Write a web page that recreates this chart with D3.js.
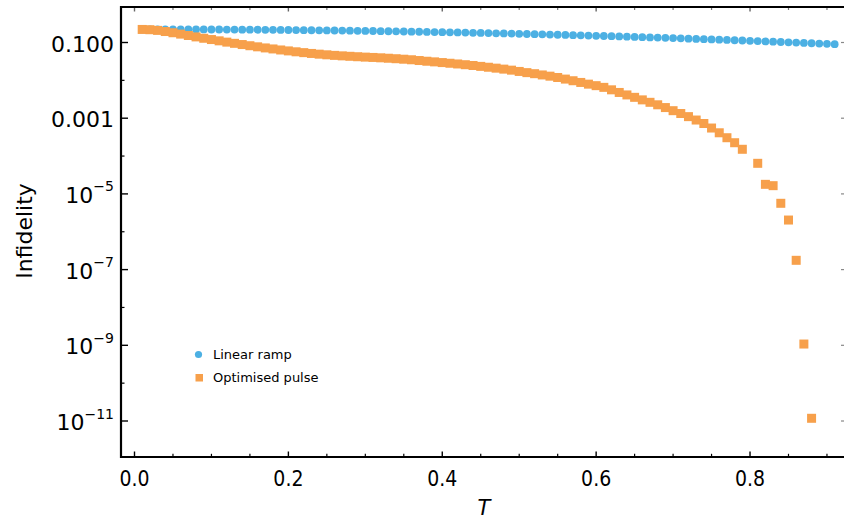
<!DOCTYPE html>
<html>
<head>
<meta charset="utf-8">
<script src="https://cdn.jsdelivr.net/npm/d3@7"></script>
<style>
  html, body { margin: 0; padding: 0; background: #fff; }
  svg { display: block; }
  text { font-family: "DejaVu Sans", sans-serif; fill: #000; }
  .xlab { font-family: "DejaVu Sans Condensed", "DejaVu Sans", sans-serif; font-stretch: condensed; }
</style>
</head>
<body>
<svg id="chart" width="844" height="522"></svg>
<script>
// Pulse duration T
const durations = [
  0.01, 0.02, 0.03, 0.04, 0.05, 0.06, 0.07, 0.08, 0.09, 0.10,
  0.11, 0.12, 0.13, 0.14, 0.15, 0.16, 0.17, 0.18, 0.19, 0.20,
  0.21, 0.22, 0.23, 0.24, 0.25, 0.26, 0.27, 0.28, 0.29, 0.30,
  0.31, 0.32, 0.33, 0.34, 0.35, 0.36, 0.37, 0.38, 0.39, 0.40,
  0.41, 0.42, 0.43, 0.44, 0.45, 0.46, 0.47, 0.48, 0.49, 0.50,
  0.51, 0.52, 0.53, 0.54, 0.55, 0.56, 0.57, 0.58, 0.59, 0.60,
  0.61, 0.62, 0.63, 0.64, 0.65, 0.66, 0.67, 0.68, 0.69, 0.70,
  0.71, 0.72, 0.73, 0.74, 0.75, 0.76, 0.77, 0.78, 0.79, 0.80,
  0.81, 0.82, 0.83, 0.84, 0.85, 0.86, 0.87, 0.88, 0.89, 0.90,
  0.91
];

// Infidelity of the linear ramp
const linearRamp = [
  0.2234, 0.2233, 0.2232, 0.2230, 0.2228, 0.2226, 0.2222, 0.2218, 0.2214, 0.2209,
  0.2204, 0.2199, 0.2193, 0.2186, 0.2179, 0.2172, 0.2164, 0.2156, 0.2147, 0.2138,
  0.2128, 0.2118, 0.2108, 0.2097, 0.2086, 0.2074, 0.2062, 0.2050, 0.2037, 0.2024,
  0.2011, 0.1997, 0.1983, 0.1968, 0.1953, 0.1938, 0.1923, 0.1907, 0.1891, 0.1875,
  0.1858, 0.1841, 0.1824, 0.1807, 0.1789, 0.1771, 0.1753, 0.1735, 0.1717, 0.1698,
  0.1680, 0.1661, 0.1642, 0.1623, 0.1603, 0.1584, 0.1564, 0.1545, 0.1525, 0.1505,
  0.1486, 0.1466, 0.1446, 0.1426, 0.1406, 0.1386, 0.1366, 0.1346, 0.1326, 0.1306,
  0.1286, 0.1266, 0.1246, 0.1226, 0.1206, 0.1186, 0.1167, 0.1147, 0.1128, 0.1108,
  0.1089, 0.1070, 0.1050, 0.1031, 0.1012, 0.0994, 0.0975, 0.0956, 0.0938, 0.0920,
  0.0902
];

// Infidelity of the optimised pulse (null: no point plotted)
const optimisedPulse = [
  0.2213, 0.2178, 0.2089, 0.1950, 0.1811, 0.1667, 0.1531, 0.1406, 0.1294, 0.1197,
  0.1107, 0.1023, 0.0951, 0.0883, 0.0822, 0.0769, 0.0719, 0.0676, 0.0635, 0.0600,
  0.0568, 0.0540, 0.0514, 0.0492, 0.0473, 0.0457, 0.0444, 0.0432, 0.0421, 0.0411,
  0.0403, 0.0394, 0.0384, 0.0373, 0.0362, 0.0350, 0.0334, 0.0320, 0.0308, 0.0295,
  0.0283, 0.0271, 0.0259, 0.0247, 0.0234, 0.0222, 0.0210, 0.0198, 0.0186, 0.0172,
  0.0160, 0.0150, 0.0139, 0.0129, 0.0119, 0.0108, 0.00977, 0.00881, 0.00794, 0.00724,
  0.00653, 0.00562, 0.00479, 0.00412, 0.00356, 0.00305, 0.00263, 0.00226, 0.00191, 0.00158,
  0.00133, 0.00110, 0.000895, 0.000724, 0.000550, 0.000412, 0.000305, 0.000225, 0.000151, null,
  6.43e-5, 1.79e-5, 1.65e-5, 5.65e-6, 2.04e-6, 1.76e-7, 1.08e-9, 1.18e-11, null, null,
  null
];

// Axis ticks
const xMajorTicks = [0.0, 0.2, 0.4, 0.6, 0.8];
const xMinorTicks = [0.05, 0.1, 0.15, 0.25, 0.3, 0.35, 0.45, 0.5, 0.55, 0.65, 0.7, 0.75, 0.85, 0.9];
const xTickLabels = ["0.0", "0.2", "0.4", "0.6", "0.8"];
const yMajorTicks = [1e-1, 1e-3, 1e-5, 1e-7, 1e-9, 1e-11];
const yMinorTicks = [1e-2, 1e-4, 1e-6, 1e-8, 1e-10];
const yTickLabels = [
  { base: "0.100", exp: null },
  { base: "0.001", exp: null },
  { base: "10", exp: "\u22125" },
  { base: "10", exp: "\u22127" },
  { base: "10", exp: "\u22129" },
  { base: "10", exp: "\u221211" }
];
const seriesNames = ["Linear ramp", "Optimised pulse"];

const blue = "#4cb0e3";
const orange = "#f7a04b";

const frame = { left: 121, right: 844, top: 7, bottom: 457 };

const svg = d3.select("#chart");

const x = d3.scaleLinear()
  .domain([-0.01755, 0.92214])
  .range([frame.left, frame.right]);

const y = d3.scaleLog()
  .domain([Math.pow(10, -11.951), Math.pow(10, -0.062)])
  .range([frame.bottom, frame.top]);

// ---- ticks ----
const tickG = svg.append("g");

function xTicks(values, yPos, len, color, width) {
  tickG.selectAll(null).data(values).enter().append("line")
    .attr("x1", d => x(d)).attr("x2", d => x(d))
    .attr("y1", yPos).attr("y2", yPos + len)
    .attr("stroke", color).attr("stroke-width", width);
}
function yTicks(values, xPos, len, color, width) {
  tickG.selectAll(null).data(values).enter().append("line")
    .attr("x1", xPos).attr("x2", xPos + len)
    .attr("y1", d => y(d)).attr("y2", d => y(d))
    .attr("stroke", color).attr("stroke-width", width);
}

// bottom (inward, black)
xTicks(xMajorTicks, frame.bottom, -5.5, "#000", 1.4);
xTicks(xMinorTicks, frame.bottom, -3.2, "#000", 1.2);
// top (inward, grey)
xTicks(xMajorTicks, frame.top, 4.5, "#666", 1.4);
xTicks(xMinorTicks, frame.top, 3, "#777", 1.2);
// left (inward, black)
yTicks(yMajorTicks, frame.left, 7, "#000", 1.4);
yTicks(yMinorTicks, frame.left, 3.5, "#000", 1.2);
// right (inward, grey)
yTicks(yMajorTicks, frame.right, -3, "#888", 1.2);

// ---- frame lines ----
svg.append("line")
  .attr("x1", frame.left).attr("x2", frame.left)
  .attr("y1", frame.top - 1).attr("y2", frame.bottom + 1)
  .attr("stroke", "#000").attr("stroke-width", 2.2);
svg.append("line")
  .attr("x1", frame.left - 1).attr("x2", frame.right)
  .attr("y1", frame.bottom).attr("y2", frame.bottom)
  .attr("stroke", "#000").attr("stroke-width", 2.2);
svg.append("line")
  .attr("x1", frame.left - 1).attr("x2", frame.right)
  .attr("y1", frame.top).attr("y2", frame.top)
  .attr("stroke", "#000").attr("stroke-width", 2.2);

// ---- tick labels ----
svg.append("g").selectAll("text").data(xMajorTicks).enter().append("text")
  .attr("class", "xlab")
  .attr("x", d => x(d))
  .attr("y", 486)
  .attr("text-anchor", "middle")
  .attr("font-size", 21)
  .text((d, i) => xTickLabels[i]);

const yLab = svg.append("g").selectAll("text").data(yMajorTicks).enter().append("text")
  .attr("x", 114)
  .attr("y", d => y(d) + 9)
  .attr("text-anchor", "end")
  .attr("font-size", 22);
yLab.each(function(d, i) {
  const t = d3.select(this);
  const lab = yTickLabels[i];
  t.append("tspan").text(lab.base);
  if (lab.exp) {
    t.append("tspan").attr("dy", -11.5).attr("font-size", 14).text(lab.exp);
  }
});

// ---- axis titles ----
svg.append("text")
  .attr("transform", "translate(32,231) rotate(-90)")
  .attr("text-anchor", "middle")
  .attr("font-size", 22)
  .text("Infidelity");

svg.append("text")
  .attr("x", 484)
  .attr("y", 515)
  .attr("text-anchor", "middle")
  .attr("font-size", 21)
  .attr("font-style", "italic")
  .text("T");

// ---- data ----
const ramp = durations.map((t, i) => ({ t, v: linearRamp[i] })).filter(d => d.v != null);
const pulse = durations.map((t, i) => ({ t, v: optimisedPulse[i] })).filter(d => d.v != null);

svg.append("g").selectAll("circle").data(ramp).enter().append("circle")
  .attr("cx", d => x(d.t))
  .attr("cy", d => y(d.v))
  .attr("r", 3.9)
  .attr("fill", blue);

const sq = 9;
svg.append("g").selectAll("rect").data(pulse).enter().append("rect")
  .attr("x", d => x(d.t) - sq / 2)
  .attr("y", d => y(d.v) - sq / 2)
  .attr("width", sq)
  .attr("height", sq)
  .attr("fill", orange);

// ---- legend ----
const legend = svg.append("g");
legend.append("circle").attr("cx", 198.5).attr("cy", 354.5).attr("r", 3.6).attr("fill", blue);
legend.append("rect").attr("x", 195.5).attr("y", 374).attr("width", 7.5).attr("height", 7.5).attr("fill", orange);
legend.selectAll("text").data(seriesNames).enter().append("text")
  .attr("x", 213)
  .attr("y", (d, i) => 359 + i * 23)
  .attr("font-size", 13)
  .text(d => d);
</script>
</body>
</html>
